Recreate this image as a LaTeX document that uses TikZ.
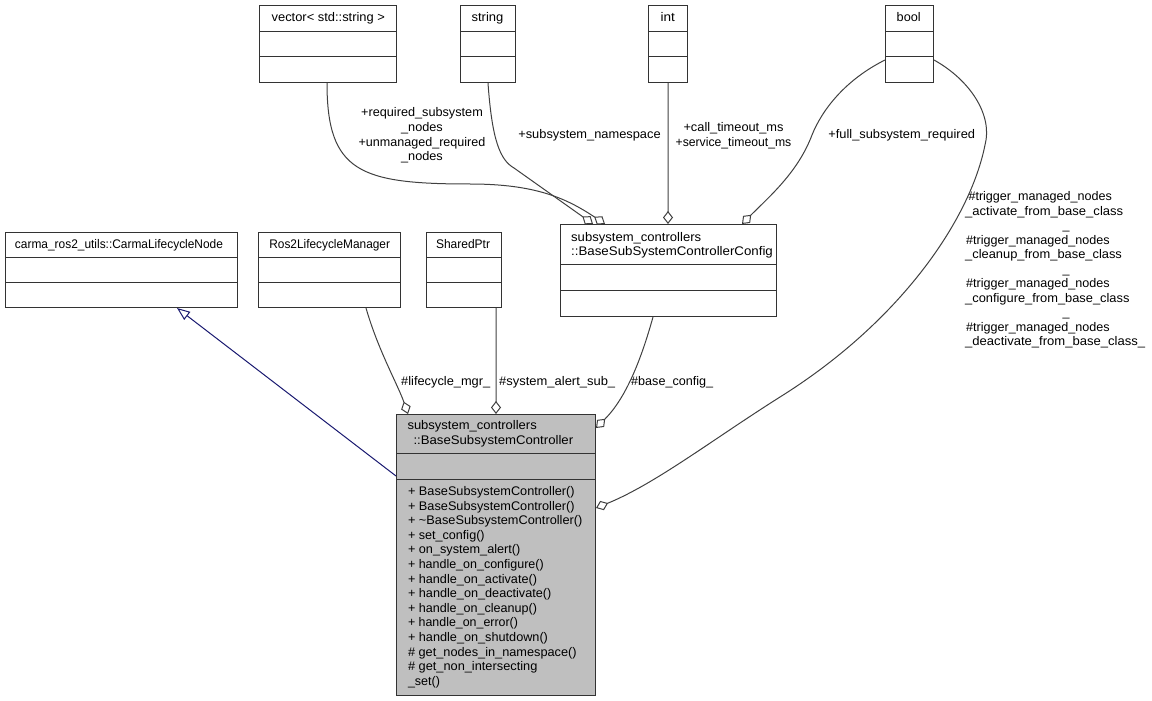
\documentclass[tikz,border=0pt]{standalone}
\usepackage{fontspec}
\usepackage{graphicx}
\setmainfont{Liberation Sans}
\usetikzlibrary{arrows.meta}
\definecolor{edgegray}{HTML}{404040}
\definecolor{boxline}{HTML}{333333}
\definecolor{mainfill}{HTML}{BFBFBF}
\definecolor{inhblue}{HTML}{191970}
\newcommand\lbf{\fontsize{12.5bp}{14.6bp}\selectfont}
\newcommand\fw[2]{\resizebox{#1bp}{\height}{#2}}
\begin{document}
\begin{tikzpicture}[x=1bp,y=-1bp,
  cls/.style={draw=boxline, line width=1bp, rectangle, inner sep=0pt, anchor=north west},
  lbl/.style={inner sep=0pt, font=\lbf, text height=8bp, text depth=0pt},
  mlbl/.style={inner sep=0pt, font=\lbf},
  sep/.style={draw=boxline, line width=1bp},
  assoc/.style={draw=edgegray, line width=1bp, -{Diamond[open, length=13bp, width=10bp]}},
  inherit/.style={draw=inhblue, line width=1bp, -{Triangle[open, length=13bp, width=10bp]}}
]
\path[use as bounding box] (0,0) rectangle (1152,701);

% ---- class boxes ----
\node[cls, minimum width=137bp, minimum height=77bp] (vec) at (259,5) {};
\node[cls, minimum width=55bp, minimum height=77bp] (str) at (460,5) {};
\node[cls, minimum width=39bp, minimum height=77bp] (int) at (648,5) {};
\node[cls, minimum width=48bp, minimum height=77bp] (bool) at (885,5) {};
\node[cls, minimum width=232bp, minimum height=75bp] (carma) at (5,232) {};
\node[cls, minimum width=142bp, minimum height=75bp] (ros) at (258,232) {};
\node[cls, minimum width=75bp, minimum height=75bp] (shp) at (426,232) {};
\node[cls, minimum width=216bp, minimum height=92bp] (cfg) at (560,224) {};
\node[cls, fill=mainfill, minimum width=199bp, minimum height=281bp] (main) at (396,414) {};

% separators
\foreach \b in {vec,str,int,bool}{
  \draw[sep] ([yshift=-27bp]\b.north west) -- ([yshift=-27bp]\b.north east);
  \draw[sep] ([yshift=-52bp]\b.north west) -- ([yshift=-52bp]\b.north east);
}
\foreach \b in {carma,ros,shp}{
  \draw[sep] ([yshift=-25bp]\b.north west) -- ([yshift=-25bp]\b.north east);
  \draw[sep] ([yshift=-50bp]\b.north west) -- ([yshift=-50bp]\b.north east);
}
\draw[sep] ([yshift=-40bp]cfg.north west) -- ([yshift=-40bp]cfg.north east);
\draw[sep] ([yshift=-66bp]cfg.north west) -- ([yshift=-66bp]cfg.north east);
\draw[sep] ([yshift=-39bp]main.north west) -- ([yshift=-39bp]main.north east);
\draw[sep] ([yshift=-65bp]main.north west) -- ([yshift=-65bp]main.north east);

% titles
\node[lbl] (tvec) at (328.3,18) {\fw{113.3}{vector< std::string >}};
\node[lbl] (tstr) at (487.5,18) {\fw{31.7}{string}};
\node[lbl] (tint) at (667.8,18) {\fw{14.3}{int}};
\node[lbl] (tbool) at (908.7,18) {\fw{24}{bool}};
\node[lbl] (tcarma) at (119,244.5) {\fw{208}{carma\_ros2\_utils::CarmaLifecycleNode}};
\node[lbl] (tros) at (329.7,244.5) {\fw{120.7}{Ros2LifecycleManager}};
\node[lbl] (tshp) at (463,244.5) {\fw{54}{SharedPtr}};
\node[lbl, anchor=west] (tcfg1) at (571,237) {\fw{130}{subsystem\_controllers}};
\node[lbl, anchor=west] (tcfg2) at (571,251) {\fw{201.7}{::BaseSubSystemControllerConfig}};
\node[lbl, anchor=west] (tmain1) at (407.3,425) {\fw{129.3}{subsystem\_controllers}};
\node[lbl, anchor=west] (tmain2) at (413.3,440) {\fw{159.7}{::BaseSubsystemController}};

% members
\foreach \w/\t [count=\i] in {%
  166.7/{+ BaseSubsystemController()},
  166.7/{+ BaseSubsystemController()},
  174.4/{+ \textasciitilde BaseSubsystemController()},
  76.7/{+ set\_config()},
  112.4/{+ on\_system\_alert()},
  135.7/{+ handle\_on\_configure()},
  129/{+ handle\_on\_activate()},
  143.4/{+ handle\_on\_deactivate()},
  129/{+ handle\_on\_cleanup()},
  110/{+ handle\_on\_error()},
  140/{+ handle\_on\_shutdown()},
  168.7/{\# get\_nodes\_in\_namespace()},
  129.4/{\# get\_non\_intersecting},
  32/{\_set()}}{
  \node[lbl, anchor=west] (m\i) at (407.8,{491.5+14.6*(\i-1)}) {\fw{\w}{\t}};
}

% ---- connectors ----
\draw[inherit] ([yshift=-62bp]main.north west) -- ([xshift=172bp]carma.south west);

\draw[assoc] ([xshift=108bp]ros.south west) .. controls (378,350) and (398,385) .. ([xshift=12bp]main.north west);
\draw[assoc] ([xshift=70bp]shp.south west) -- ([xshift=100bp]main.north west);
\draw[assoc] ([xshift=93bp]cfg.south west) .. controls (641,360) and (626,398) .. ([yshift=-14bp]main.north east);
\draw[assoc] ([yshift=-55bp]bool.north east) .. controls (970,80) and (993,115) .. (985,145)
   .. controls (970,220) and (900,322) .. (780,397)
   .. controls (712,440) and (655,484) .. ([yshift=-94bp]main.north east);

\draw[assoc] ([xshift=68bp]vec.south west) .. controls (327,172) and (360,184) .. (470,184)
   .. controls (535,184) and (566,198) .. ([xshift=45bp]cfg.north west);
\draw[assoc] ([xshift=28bp]str.south west) .. controls (492,140) and (500,160) .. (514,168)
   -- ([xshift=33bp]cfg.north west);
\draw[assoc] ([xshift=20bp]int.south west) -- ([xshift=108bp]cfg.north west);
\draw[assoc] ([yshift=-55bp]bool.north west) .. controls (845,80) and (822,110) .. (812,135)
   .. controls (798,172) and (770,196) .. ([xshift=182bp]cfg.north west);

% ---- connector labels ----
\node[mlbl, align=center] (lvec) at (422,135.5) {\fw{121.7}{+required\_subsystem}\\\fw{41.7}{\_nodes}\\\fw{126.7}{+unmanaged\_required}\\\fw{41.7}{\_nodes}};
\node[lbl] (lstr) at (589.5,134.5) {\fw{142.4}{+subsystem\_namespace}};
\node[mlbl, align=center] (lint) at (733.5,136) {\fw{100}{+call\_timeout\_ms}\\\fw{115.7}{+service\_timeout\_ms}};
\node[lbl] (lbool) at (901.7,134.5) {\fw{146.7}{+full\_subsystem\_required}};
\node[lbl, anchor=west] (lros) at (401,381) {\fw{89}{\#lifecycle\_mgr\_}};
\node[lbl, anchor=west] (lshp) at (499,381) {\fw{116}{\#system\_alert\_sub\_}};
\node[lbl, anchor=west] (lcfg) at (631,381) {\fw{82}{\#base\_config\_}};

\node[lbl, anchor=west] (t1) at (968.3,196.7) {\fw{143.4}{\#trigger\_managed\_nodes}};
\node[lbl, anchor=west] (t2) at (965,211.2) {\fw{158}{\_activate\_from\_base\_class}};
\node[lbl] (t3) at (1066,225.7) {\_};
\node[lbl, anchor=west] (t4) at (966,240.2) {\fw{143.4}{\#trigger\_managed\_nodes}};
\node[lbl, anchor=west] (t5) at (965,254.7) {\fw{156.7}{\_cleanup\_from\_base\_class}};
\node[lbl] (t6) at (1066,269.2) {\_};
\node[lbl, anchor=west] (t7) at (966,283.7) {\fw{143.4}{\#trigger\_managed\_nodes}};
\node[lbl, anchor=west] (t8) at (965,298.2) {\fw{164.3}{\_configure\_from\_base\_class}};
\node[lbl] (t9) at (1066,312.7) {\_};
\node[lbl, anchor=west] (t10) at (966,327.2) {\fw{143.4}{\#trigger\_managed\_nodes}};
\node[lbl, anchor=west] (t11) at (965,341.7) {\fw{180}{\_deactivate\_from\_base\_class\_}};
\end{tikzpicture}
\end{document}
